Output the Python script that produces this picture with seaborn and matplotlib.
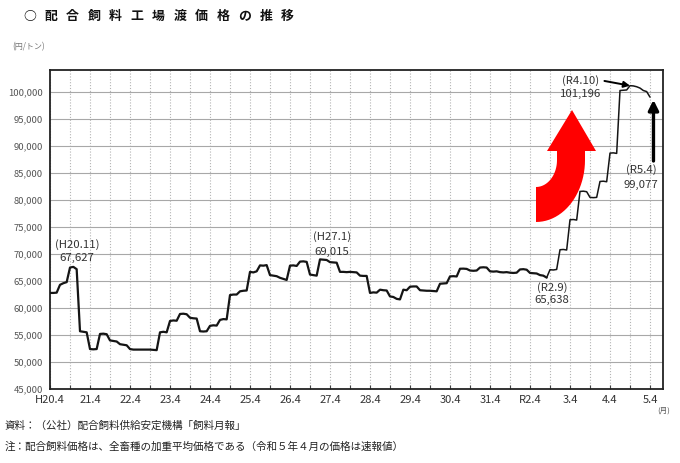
import matplotlib
matplotlib.use("Agg")
import matplotlib.pyplot as plt
from matplotlib.patches import Polygon
from matplotlib.transforms import offset_copy
import numpy as np
import pandas as pd
import seaborn as sns

# ---------------- data (yen / ton, monthly, fiscal years April..March) ----------------
fy_h20 = [62800, 62800, 62850, 64300, 64600, 64800, 67500, 67627, 67200, 55700, 55600, 55500]
fy_h21 = [52400, 52350, 52400, 55200, 55250, 55150, 54000, 53900, 53800, 53300, 53200, 53100]
fy_h22 = [52400, 52300, 52300, 52300, 52300, 52300, 52300, 52250, 52200, 55500, 55600, 55500]
fy_h23 = [57600, 57700, 57650, 58900, 58950, 58850, 58200, 58100, 58050, 55700, 55650, 55700]
fy_h24 = [56700, 56800, 56750, 57800, 57950, 57900, 62400, 62500, 62500, 63100, 63200, 63250]
fy_h25 = [66700, 66600, 66800, 67900, 67850, 67950, 66100, 66000, 65900, 65600, 65400, 65200]
fy_h26 = [67850, 67900, 67800, 68600, 68650, 68550, 66200, 66100, 66000, 69015, 68950, 68900]
fy_h27 = [68500, 68450, 68400, 66700, 66700, 66650, 66700, 66650, 66600, 66000, 65950, 65950]
fy_h28 = [62800, 62900, 62850, 63400, 63300, 63250, 62150, 62050, 61700, 61600, 63400, 63300]
fy_h29 = [63950, 64000, 64000, 63300, 63250, 63200, 63200, 63150, 63100, 64500, 64550, 64600]
fy_h30 = [65860, 65900, 65850, 67280, 67300, 67250, 66950, 66900, 66950, 67500, 67550, 67500]
fy_r1 = [66800, 66750, 66800, 66650, 66600, 66650, 66550, 66500, 66550, 67150, 67200, 67100]
fy_r2 = [66500, 66450, 66400, 66100, 66000, 65638, 67100, 67050, 67150, 70800, 70850, 70750]
fy_r3 = [76350, 76400, 76300, 81600, 81650, 81550, 80500, 80450, 80500, 83450, 83500, 83400]
fy_r4 = [88700, 88750, 88650, 100300, 100350, 100400, 101196, 101150, 101000, 100750, 100300, 100100]
fy_r5 = [99077]

prices = (fy_h20 + fy_h21 + fy_h22 + fy_h23 + fy_h24 + fy_h25 + fy_h26 + fy_h27
          + fy_h28 + fy_h29 + fy_h30 + fy_r1 + fy_r2 + fy_r3 + fy_r4 + fy_r5)
months = list(range(len(prices)))  # months since H20.4

x_tick_labels = ["H20.4", "21.4", "22.4", "23.4", "24.4", "25.4", "26.4", "27.4",
                 "28.4", "29.4", "30.4", "31.4", "R2.4", "3.4", "4.4", "5.4"]
y_ticks = [45000, 50000, 55000, 60000, 65000, 70000, 75000, 80000, 85000,
           90000, 95000, 100000]

# annotated points: (month index, label, value text)
ann_h20 = (7, "(H20.11)", "67,627")
ann_h27 = (81, "(H27.1)", "69,015")
ann_r29 = (149, "(R2.9)", "65,638")
ann_r410 = (174, "(R4.10)", "101,196")
ann_r54 = (180, "(R5.4)", "99,077")

title_text = "○配合飼料工場渡価格の推移"
unit_text = "(円/トン)"
month_unit = "(月)"
source_text = "資料：（公社）配合飼料供給安定機構「飼料月報」"
note_text = "注：配合飼料価格は、全畜種の加重平均価格である（令和５年４月の価格は速報値）"

df = pd.DataFrame({"month": months, "price": prices})

# ---------------- style ----------------
sns.set_theme(style="white")
plt.rcParams["font.family"] = ["Noto Sans CJK JP", "DejaVu Sans"]

W, H = 680, 463
fig = plt.figure(figsize=(W / 100, H / 100), dpi=100)
fig.patch.set_facecolor("white")
ax = fig.add_axes([50 / W, 1 - 389 / H, (663 - 50) / W, (389 - 70) / H])
ax.set_facecolor("white")

split = 149
sns.lineplot(data=df[df["month"] <= split], x="month", y="price", ax=ax,
             color="#151515", linewidth=1.6, zorder=3)
sns.lineplot(data=df[df["month"] >= split], x="month", y="price", ax=ax,
             color="#151515", linewidth=1.1, zorder=3)

ax.set_xlim(0, 183.9)
ax.set_ylim(45000, 104100)
ax.set_xlabel("")
ax.set_ylabel("")

ax.set_xticks(list(range(0, 12 * len(x_tick_labels), 12)))
ax.set_xticklabels(x_tick_labels, fontsize=8, color="#333333")
ax.set_xticks(list(range(6, 181, 12)), minor=True)
ax.set_yticks(y_ticks)
ax.set_yticklabels([f"{v:,}" for v in y_ticks], fontsize=6.8, color="#555555")

ax.tick_params(axis="x", which="both", direction="in", length=3, width=0.8,
               color="#444444", pad=4, bottom=True)
ax.tick_params(axis="y", length=0, pad=5)

ax.grid(axis="y", color="#a8a8a8", linewidth=0.8, linestyle="-")
ax.grid(axis="x", which="both", color="#b4b4b4", linewidth=0.8, linestyle=(0, (1, 1.6)))
ax.set_axisbelow(True)
for s in ax.spines.values():
    s.set_visible(True)
    s.set_color("#222222")
    s.set_linewidth(1.3)

# ---------------- annotations ----------------
txt_kw = dict(textcoords="offset points", ha="center", va="center",
              fontsize=8.2, color="#333333", zorder=6)


def label(ann, dx, dy1, dy2):
    m, lab, val = ann
    v = prices[m]
    ax.annotate(lab, xy=(m, v), xytext=(dx, dy1), **txt_kw)
    ax.annotate(val, xy=(m, v), xytext=(dx, dy2), **txt_kw)


label(ann_h20, 2.6, 15.8, 6.4)
label(ann_h27, 8.6, 16.8, 5.5)
label(ann_r29, 3.8, -7.1, -16.4)
label(ann_r410, -35.6, 3.9, -5.8)
label(ann_r54, -6.5, -52.3, -63.1)

# arrow to R4.10
m, _, _ = ann_r410
ax.annotate("", xy=(m, prices[m]), xytext=(-18.4, 3.4), textcoords="offset points",
            arrowprops=dict(arrowstyle="-|>", color="black", lw=1.4,
                            mutation_scale=9, shrinkA=0, shrinkB=0), zorder=6)
# arrow to R5.4
m, _, _ = ann_r54
tip_tr = offset_copy(ax.transData, fig=fig, x=2.5, y=-2.0, units="points")
tail_tr = offset_copy(ax.transData, fig=fig, x=2.5, y=-46.0, units="points")
ax.annotate("", xy=(m, prices[m]), xycoords=tip_tr, xytext=(m, prices[m]),
            textcoords=tail_tr,
            arrowprops=dict(arrowstyle="-|>", color="black", lw=2.4,
                            mutation_scale=15, shrinkA=0, shrinkB=0), zorder=6)

# big red curved arrow (decoration), drawn in figure pixels


def px(x, y):
    return (x / W, 1 - y / H)


cx, cy = 536, 160
pts = [px(536, 222), px(536, 187)]
for t in np.linspace(0, np.pi / 2, 24):
    pts.append(px(cx + 21 * np.sin(t), cy + 27 * np.cos(t)))
pts += [px(557, 151), px(547, 151), px(572, 110), px(596, 151), px(585, 151), px(585, 160)]
for t in np.linspace(np.pi / 2, 0, 24):
    pts.append(px(cx + 49 * np.sin(t), cy + 62 * np.cos(t)))
fig.add_artist(Polygon(pts, closed=True, transform=fig.transFigure,
                       facecolor="#ff0000", edgecolor="none", zorder=7))

# ---------------- texts ----------------
for i, ch in enumerate(title_text):
    fig.text((29.5 + 21.5 * i) / W, 1 - 16 / H, ch, ha="center", va="center",
             fontsize=9.3, fontweight="bold", color="#111111")
fig.text(12 / W, 1 - 47 / H, unit_text, ha="left", va="center", fontsize=5.8,
         color="#777777")
fig.text(664 / W, 1 - 411 / H, month_unit, ha="center", va="center", fontsize=5.5,
         color="#555555")
fig.text(5 / W, 1 - 426 / H, source_text, ha="left", va="center", fontsize=7.6,
         color="#222222")
fig.text(5 / W, 1 - 447 / H, note_text, ha="left", va="center", fontsize=7.6,
         color="#222222")

fig.savefig("out.png", dpi=100, facecolor="white")
